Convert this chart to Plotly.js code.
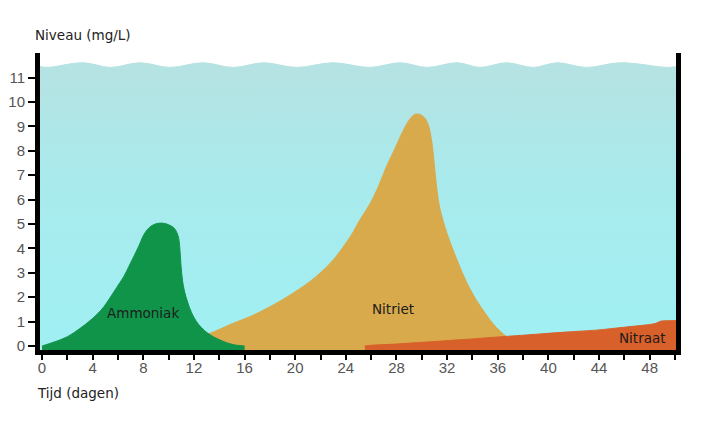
<!DOCTYPE html>
<html>
<head>
<meta charset="utf-8">
<script src="https://cdn.plot.ly/plotly-3.0.1.min.js"></script>
<style>html,body{margin:0;padding:0;background:#fff;}#chart{width:710px;height:423px;}</style>
</head>
<body>
<div id="chart"></div>
<script>
// ---- data ----
const xTickVals = [0, 4, 8, 12, 16, 20, 24, 28, 32, 36, 40, 44, 48];
const yTickVals = [0, 1, 2, 3, 4, 5, 6, 7, 8, 9, 10, 11];

const ammoniakDays = [0, 1, 2, 3, 3.7, 4.35, 4.9, 5.4, 5.9, 6.45, 6.85, 7.24, 7.65, 8.03, 8.4, 8.8, 9.2, 9.6, 10.0, 10.4, 10.65, 10.8, 10.9, 10.98, 11.08, 11.25, 11.5, 11.8, 12.2, 12.6, 13.1, 13.6, 14.1, 14.5, 15.0, 15.4, 16.0];
const ammoniakLevel = [0, 0.17, 0.38, 0.72, 1.0, 1.3, 1.62, 2.0, 2.4, 2.84, 3.25, 3.66, 4.1, 4.55, 4.82, 4.97, 5.03, 5.03, 4.97, 4.85, 4.65, 4.4, 3.9, 3.3, 2.75, 2.25, 1.8, 1.38, 1.0, 0.75, 0.52, 0.36, 0.24, 0.15, 0.07, 0.03, 0];

const nitrietDays = [9, 10.5, 12, 13.27, 14.0, 15.1, 16.5, 17.75, 19.0, 20.4, 21.5, 22.5, 23.2, 23.8, 24.5, 25.1, 25.7, 26.2, 26.7, 27.2, 27.8, 28.3, 28.7, 29.1, 29.4, 29.7, 30.0, 30.3, 30.55, 30.75, 30.9, 31.05, 31.2, 31.4, 31.7, 32.0, 32.5, 33.0, 33.6, 34.3, 35.0, 35.6, 36.2, 36.7, 37.3, 37.7];
const nitrietLevel = [0, 0.13, 0.3, 0.52, 0.68, 0.93, 1.22, 1.54, 1.9, 2.36, 2.78, 3.25, 3.65, 4.07, 4.6, 5.16, 5.65, 6.12, 6.7, 7.35, 8.0, 8.58, 9.0, 9.33, 9.48, 9.51, 9.45, 9.3, 9.0, 8.5, 7.9, 7.1, 6.4, 5.7, 5.1, 4.6, 3.9, 3.25, 2.55, 1.89, 1.35, 0.93, 0.6, 0.38, 0.2, 0];

const nitraatDays = [25.5, 26, 28, 30, 32, 34, 36, 38, 40, 42, 44, 46, 48, 48.5, 48.9, 50.1];
const nitraatLevel = [0, 0.03, 0.08, 0.15, 0.22, 0.29, 0.37, 0.44, 0.52, 0.59, 0.66, 0.77, 0.88, 0.93, 1.02, 1.04];

const waterDays = [-0.2, 0.4, 3.24, 5.4, 7.74, 10.1, 12.7, 15.1, 17.5, 20.1, 23.0, 25.9, 28.3, 30.4, 32.8, 34.6, 36.7, 38.8, 40.7, 43.0, 45.7, 49.4, 50.1];
const waterLevel = [11.46, 11.42, 11.61, 11.42, 11.61, 11.42, 11.61, 11.42, 11.61, 11.42, 11.61, 11.42, 11.61, 11.42, 11.61, 11.42, 11.61, 11.42, 11.61, 11.42, 11.61, 11.42, 11.45];

const labels = [
  {text: 'Ammoniak', day: 8.0, level: 1.35},
  {text: 'Nitriet', day: 27.7, level: 1.5},
  {text: 'Nitraat', day: 47.4, level: 0.31}
];

// ---- layout constants ----
const xRange = [-0.16, 50.08];
const yRange = [-0.164, 12.01];
const base = yRange[0] - 0.1;

function baseline(xs) {
  return {x: [xs[0], xs[xs.length - 1]], y: [base, base], mode: 'lines',
          line: {width: 0}, hoverinfo: 'skip', showlegend: false};
}
function area(xs, ys, color, smooth) {
  return {x: xs, y: ys, mode: 'lines', fill: 'tonexty', fillcolor: color,
          line: {width: 1, color: color, shape: 'spline', smoothing: smooth}, hoverinfo: 'skip', showlegend: false};
}

const water = area(waterDays, waterLevel, '#b6e2e2', 1);
water.fillgradient = {type: 'vertical', colorscale: [[0, '#9ff0f3'], [0.6, '#a9eaec'], [1, '#b6e2e2']]};

const traces = [
  baseline(waterDays), water,
  baseline(nitrietDays), area(nitrietDays, nitrietLevel, '#d9aa4c', 1),
  baseline(ammoniakDays), area(ammoniakDays, ammoniakLevel, '#10944a', 1),
  baseline(nitraatDays), area(nitraatDays, nitraatLevel, '#d8602a', 0.6)
];

const annFont = {family: 'DejaVu Sans', size: 13.5, color: '#1c1c1c'};
const annotations = labels.map(l => ({
  text: l.text, x: l.day, y: l.level, xref: 'x', yref: 'y',
  showarrow: false, font: annFont, xanchor: 'center', yanchor: 'middle'
}));
annotations.push({text: 'Niveau (mg/L)', xref: 'paper', yref: 'paper', x: -0.0105, y: 1.061,
  xanchor: 'left', yanchor: 'middle', showarrow: false,
  font: {family: 'DejaVu Sans', size: 13.5, color: '#222'}});
annotations.push({text: 'Tijd (dagen)', xref: 'paper', yref: 'paper', x: -0.0075, y: -0.144,
  xanchor: 'left', yanchor: 'middle', showarrow: false,
  font: {family: 'DejaVu Sans', size: 13.5, color: '#222'}});

const layout = {
  width: 710, height: 423,
  margin: {l: 40, r: 34, t: 53, b: 73, pad: 0},
  paper_bgcolor: '#ffffff', plot_bgcolor: '#ffffff',
  showlegend: false,
  xaxis: {
    range: xRange, showgrid: false, zeroline: false,
    showline: true, linecolor: '#000', linewidth: 5,
    tickmode: 'array', tickvals: xTickVals, ticktext: xTickVals.map(String),
    ticks: 'outside', ticklen: 5, tickwidth: 2, tickcolor: '#000',
    minor: {dtick: 2, tick0: 0, ticks: 'outside', ticklen: 5, tickwidth: 2, tickcolor: '#000', showgrid: false},
    tickfont: {family: 'Liberation Sans', size: 15, color: '#555'},
    ticklabelstandoff: -5
  },
  yaxis: {
    range: yRange, showgrid: false, zeroline: false,
    showline: true, linecolor: '#000', linewidth: 5, mirror: true,
    tickmode: 'array', tickvals: yTickVals, ticktext: yTickVals.map(String),
    ticks: 'outside', ticklen: 7, tickwidth: 2, tickcolor: '#000',
    tickfont: {family: 'Liberation Sans', size: 15, color: '#555'}
  },
  annotations: annotations
};

Plotly.newPlot('chart', traces, layout, {displayModeBar: false, staticPlot: true});
</script>
</body>
</html>
